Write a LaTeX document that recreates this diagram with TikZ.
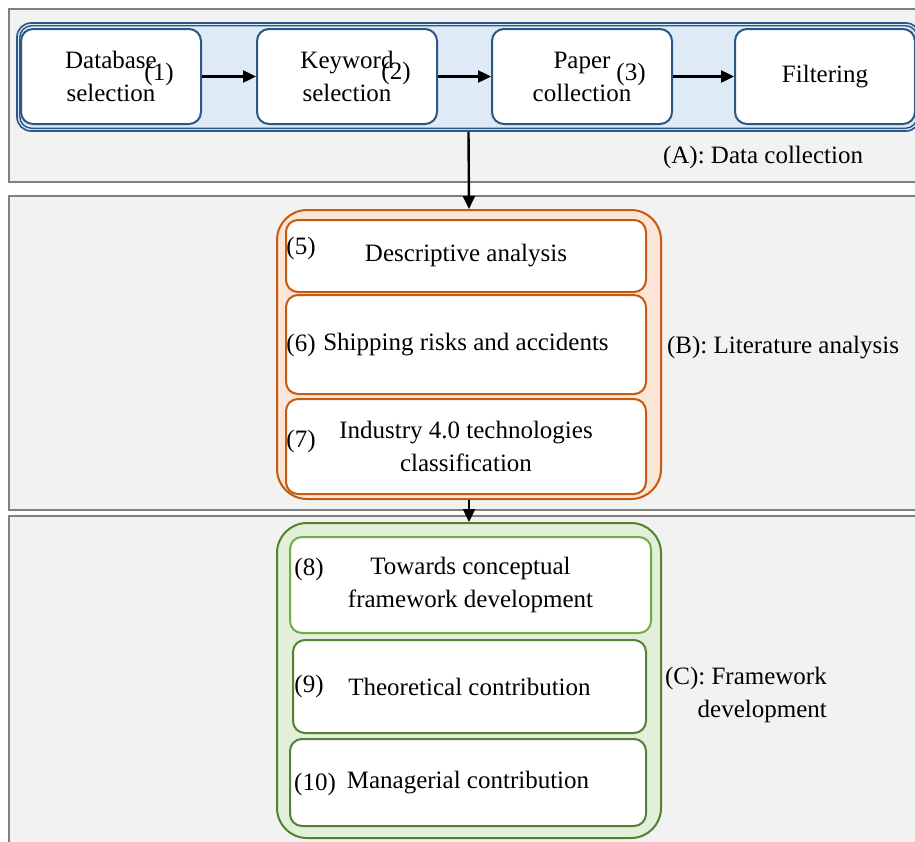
\documentclass[tikz,border=0pt]{standalone}
\usepackage{fontspec}
\setmainfont{Liberation Serif}
\usetikzlibrary{arrows.meta}
\definecolor{panelfill}{HTML}{F2F2F2}
\definecolor{panelline}{HTML}{808080}
\definecolor{bluefill}{HTML}{DEEAF6}
\definecolor{blueline}{HTML}{2A5783}
\definecolor{orfill}{HTML}{FBE5D6}
\definecolor{orline}{HTML}{C55A11}
\definecolor{grfill}{HTML}{E2F0D9}
\definecolor{grline}{HTML}{548235}
\definecolor{grlight}{HTML}{70AD47}
\begin{document}
\begin{tikzpicture}[x=1pt,y=-1pt,
  every node/.style={font=\fontsize{25}{33}\selectfont, inner sep=0pt},
  panel/.style={rectangle, draw=panelline, fill=panelfill, line width=2pt, minimum width=916pt},
  container/.style={draw, line width=2pt, rounded corners=30pt},
  box/.style={draw, fill=white, line width=2pt, rounded corners=12pt, align=center},
  arr/.style={line width=2.4pt, -{Triangle[length=13pt,width=12pt]}},
  lbl/.style={align=center}
]
\useasboundingbox (0,0) rectangle (915,841);
\clip (0,0) rectangle (915,841);
% panels
\node[panel, minimum height=173pt] (pA) at (467,95.5) {};
\node[panel, minimum height=314pt] (pB) at (467,353) {};
\node[panel, minimum height=336pt] (pC) at (467,684) {};
% data collection
\node[container, draw=blueline, fill=bluefill, line width=1.6pt, rounded corners=14pt, minimum width=903pt, minimum height=108pt] (blue) at (468.5,77) {};
\draw[blueline, line width=1.4pt, rounded corners=12pt] ([shift={(3.5pt,-3.5pt)}]blue.north west) rectangle ([shift={(-3.5pt,3.5pt)}]blue.south east);
\node[box, draw=blueline, minimum width=180pt, minimum height=95pt] (db) at (111,76.5) {Database\\selection};
\node[box, draw=blueline, minimum width=180pt, minimum height=95pt] (kw) at (347,76.5) {Keyword\\selection};
\node[box, draw=blueline, minimum width=180pt, minimum height=95pt] (pc) at (582,76.5) {Paper\\collection};
\node[box, draw=blueline, minimum width=180pt, minimum height=95pt] (fl) at (825,76.5) {Filtering};
\node (n1) at (159,74) {(1)};
\node (n2) at (396,73) {(2)};
\node (n3) at (631,74) {(3)};
\draw[arr] (db.east) -- (kw.west);
\draw[arr] (kw.east) -- (pc.west);
\draw[arr] (pc.east) -- (fl.west);
\node[lbl] (lA) at (763,157.5) {(A): Data collection};
% literature analysis
\node[container, draw=orline, fill=orfill, minimum width=384pt, minimum height=289pt] (orange) at (469,354.5) {};
\node[box, draw=orline, minimum width=360pt, minimum height=72pt] (b5) at (466,256) {Descriptive analysis};
\node[box, draw=orline, minimum width=360pt, minimum height=99pt] (b6) at (466,344.5) {Shipping risks and accidents};
\node[box, draw=orline, minimum width=360pt, minimum height=95pt] (b7) at (466,446.5) {Industry 4.0 technologies\\classification};
\node (n5) at (301,248) {(5)};
\node (n6) at (301,345) {(6)};
\node (n7) at (301,441) {(7)};
\node[lbl] (lB) at (783,348) {(B): Literature analysis};
% framework development
\node[container, draw=grline, fill=grfill, minimum width=384pt, minimum height=315pt] (green) at (469,680.5) {};
\node[box, draw=grlight, minimum width=361pt, minimum height=96pt] (b8) at (470.5,585) {Towards conceptual\\framework development};
\node[box, draw=grline, minimum width=353pt, minimum height=93pt] (b9) at (469.5,686.5) {Theoretical contribution};
\node[box, draw=grline, minimum width=356pt, minimum height=87pt] (b10) at (468,782.5) {Managerial contribution};
\node (n8) at (309,569) {(8)};
\node (n9) at (309,686) {(9)};
\node (n10) at (315,784) {(10)};
\node[anchor=east, align=right] (lC) at (827,695) {(C): Framework\\development};
% flow arrows
\draw[arr] (blue.south) -- (orange.north);
\draw[arr] (orange.south) -- (green.north);
\end{tikzpicture}
\end{document}
